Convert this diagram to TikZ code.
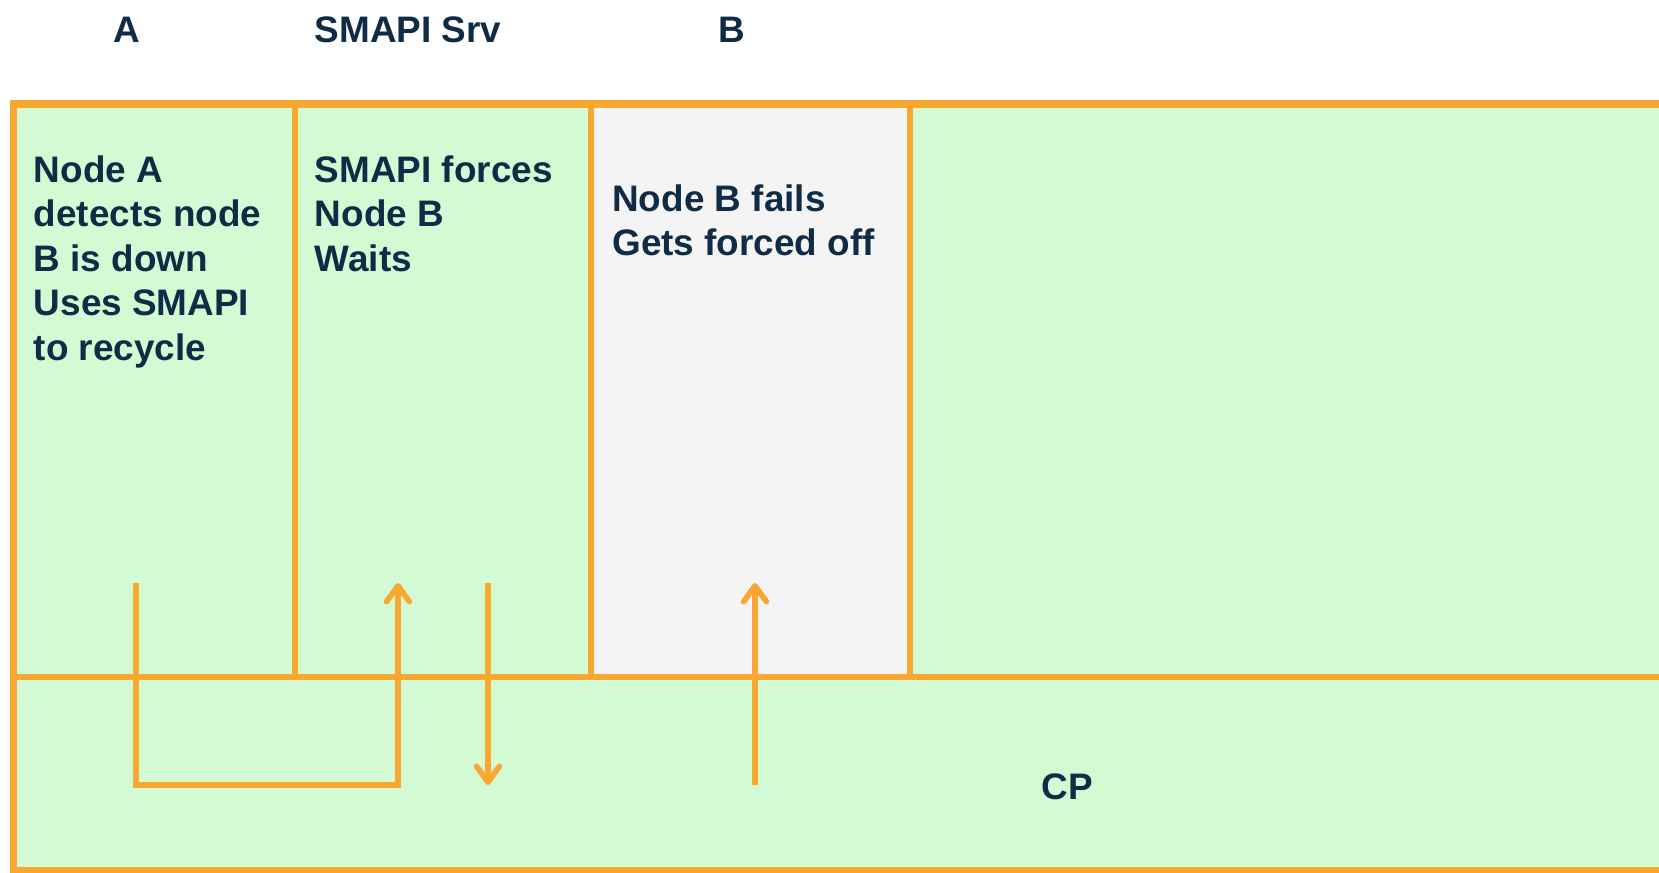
\documentclass[tikz,border=0pt]{standalone}
\usepackage{fontspec}
\setmainfont{Liberation Sans}
\usepackage{xcolor}
\usetikzlibrary{arrows.meta, positioning}

\definecolor{cellgreen}{HTML}{D4FAD4}
\definecolor{cellgray}{HTML}{F4F4F4}
\definecolor{lineorange}{HTML}{F8A830}
\definecolor{textnavy}{HTML}{102B45}

\tikzset{
  cell/.style={draw=lineorange, line width=3pt, fill=cellgreen, rectangle,
    inner sep=0pt, outer sep=0pt, anchor=north west},
  heading/.style={text=textnavy, inner sep=0pt,
    font=\fontsize{21pt}{25.4pt}\selectfont\bfseries},
  celltext/.style={heading, anchor=north west, align=left},
  flow/.style={draw=lineorange, line width=3.2pt},
  tip/.style={-{Straight Barb[length=9pt, width=13pt, line width=3.2pt, line cap=round, line join=round]}}
}

\begin{document}
\begin{tikzpicture}[x=0.02cm, y=-0.02cm]
  \useasboundingbox (0,0) rectangle (1659,872);
  \clip (0,0) rectangle (1659,872);

  % lanes
  \node[cell, minimum width=5.63cm, minimum height=11.46cm] (cellA) at (13.5,104) {};
  \node[cell, minimum width=5.92cm, minimum height=11.46cm] (cellS) at (295,104) {};
  \node[cell, fill=cellgray, minimum width=6.38cm, minimum height=11.46cm] (cellB) at (591,104) {};
  \node[cell, minimum width=15.8cm, minimum height=11.46cm] (cellR) at (910,104) {};
  \node[cell, minimum width=33.73cm, minimum height=3.88cm] (cellCP) at (13.5,677) {};
  \draw[draw=lineorange, line width=4.2pt] (cellA.north west) rectangle (cellCP.south east);

  % headings
  \begin{scope}[every node/.style={heading}]
    \node (hA) at (126.5,30) {A};
    \node (hS) at (408,30) {SMAPI Srv};
    \node (hB) at (732,30) {B};
    \node (hCP) at (1067,787) {CP};
  \end{scope}

  \node[celltext] (txtA) at (33.5,155) {Node A\\detects node\\B is down\\Uses SMAPI\\to recycle};
  \node[celltext] (txtS) at (314.5,155) {SMAPI forces\\Node B\\Waits};
  \node[celltext] (txtB) at (612,184) {Node B fails\\Gets forced off};

  % calls
  \coordinate (aStart) at (136,583);
  \coordinate (aTurn) at (136,785);
  \coordinate (sEnd) at (398,583);
  \coordinate (dStart) at (488,583);
  \coordinate (dEnd) at (488,785);
  \coordinate (bStart) at (755,785);
  \coordinate (bEnd) at (755,583);
  \draw[flow, tip] (aStart) -- (aTurn) -| (sEnd);
  \draw[flow, tip] (dStart) -- (dEnd);
  \draw[flow, tip] (bStart) -- (bEnd);
\end{tikzpicture}
\end{document}
